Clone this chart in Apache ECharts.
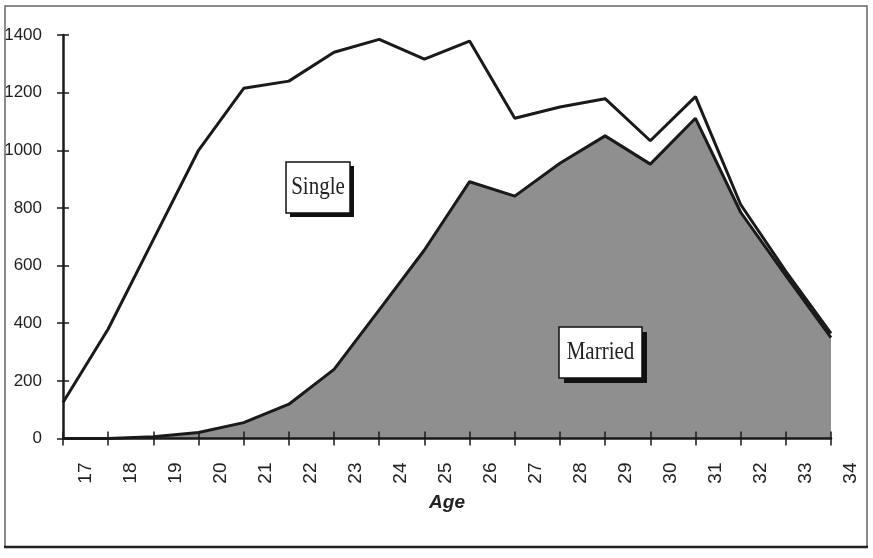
<!DOCTYPE html>
<html>
<head>
<meta charset="utf-8">
<script src="https://cdn.jsdelivr.net/npm/echarts@6/dist/echarts.min.js"></script>
<style>
html,body{margin:0;padding:0;background:#fff;}
#c{width:873px;height:558px;}
</style>
</head>
<body>
<div id="c"></div>
<script>
var ages = ['17','18','19','20','21','22','23','24','25','26','27','28','29','30','31','32','33','34'];
var yTicks = [0, 200, 400, 600, 800, 1000, 1200, 1400];
var single = [125, 380, 690, 1000, 1215, 1240, 1340, 1385, 1316, 1379, 1111, 1150, 1179, 1033, 1186, 812, 580, 365];
var married = [0, 0, 6, 21, 55, 119, 240, 446, 654, 891, 841, 955, 1050, 952, 1111, 785, 565, 350];
var seriesNames = ['Single', 'Married'];
var axisTitle = 'Age';

var chart = echarts.init(document.getElementById('c'), null, {renderer: 'canvas'});
var ink = '#1a1a1a';
var gL = 63, gR = 831, gT = 35, gB = 438.5;
var step = (gR - gL) / (ages.length - 1);

function labelBox(id, x, y, w, h, txt, off) {
  return [
    {type: 'rect', id: id + '_sh', z: 50, shape: {x: x + off, y: y + off, width: w, height: h}, style: {fill: '#111'}},
    {type: 'rect', id: id + '_bx', z: 51, shape: {x: x, y: y, width: w, height: h}, style: {fill: '#fff', stroke: '#111', lineWidth: 1.5}},
    {type: 'text', id: id + '_tx', z: 52, x: x + w / 2, y: y + h / 2, scaleY: 1.15,
      style: {text: txt, font: '21px "Liberation Serif", "Times New Roman", serif', fill: '#222', align: 'center', verticalAlign: 'middle'}}
  ];
}

var graphics = [
  {type: 'rect', id: 'frame', z: 40, shape: {x: 5, y: 6, width: 862, height: 541}, style: {fill: 'none', stroke: '#666', lineWidth: 1.5}},
  {type: 'line', id: 'frameBottom', z: 41, shape: {x1: 4, y1: 547, x2: 868, y2: 547}, style: {stroke: '#222', lineWidth: 2.5}}
].concat(labelBox('single', 286, 162, 64, 51, seriesNames[0], 4))
 .concat(labelBox('married', 559, 327, 83, 51, seriesNames[1], 5));

chart.setOption({
  animation: false,
  backgroundColor: '#fff',
  grid: [
    {left: gL, top: gT, width: gR - gL, height: gB - gT, containLabel: false},
    {left: gL, top: gT, width: step * ages.length, height: gB - gT, containLabel: false}
  ],
  xAxis: [
    {type: 'category', gridIndex: 0, data: ages, boundaryGap: false, z: 5,
      axisLine: {lineStyle: {color: ink, width: 2.5}},
      axisTick: {show: true, interval: 0, length: 7, lineStyle: {color: ink, width: 1.5}},
      axisLabel: {show: false}, splitLine: {show: false},
      name: axisTitle, nameLocation: 'middle', nameGap: 55,
      nameTextStyle: {fontFamily: '"Liberation Sans", Arial, sans-serif', fontSize: 19, fontWeight: 'bold', fontStyle: 'italic', color: '#222'}},
    {type: 'category', gridIndex: 0, data: ages, boundaryGap: false, position: 'bottom', z: 5,
      axisLine: {show: false},
      axisTick: {show: true, inside: true, interval: 0, length: 7, lineStyle: {color: ink, width: 1.5}},
      axisLabel: {show: false}, splitLine: {show: false}},
    {type: 'category', gridIndex: 1, data: ages, boundaryGap: true, position: 'bottom',
      axisLine: {show: false}, axisTick: {show: false}, splitLine: {show: false},
      axisLabel: {show: true, interval: 0, rotate: 90, margin: 24,
        fontFamily: '"Liberation Sans", Arial, sans-serif', fontSize: 19, color: '#222'}}
  ],
  yAxis: [
    {type: 'value', gridIndex: 0, min: 0, max: 1400, interval: 200, z: 5,
      axisLine: {show: true, lineStyle: {color: ink, width: 2.5}},
      axisTick: {show: true, length: 6, lineStyle: {color: ink, width: 1.5}},
      axisLabel: {margin: 21, fontFamily: '"Liberation Sans", Arial, sans-serif', fontSize: 17, color: '#222',
        formatter: function (v) { return yTicks.indexOf(v) >= 0 ? String(v) : ''; }},
      splitLine: {show: false}},
    {type: 'value', gridIndex: 0, min: 0, max: 1400, interval: 200, position: 'left', z: 5,
      axisLine: {show: false},
      axisTick: {show: true, inside: true, length: 6, lineStyle: {color: ink, width: 1.5}},
      axisLabel: {show: false}, splitLine: {show: false}},
    {type: 'value', gridIndex: 1, show: false, min: 0, max: 1400}
  ],
  series: [
    {name: seriesNames[1], type: 'line', xAxisIndex: 0, yAxisIndex: 0, data: married,
      showSymbol: false, symbol: 'none', z: 2,
      lineStyle: {color: ink, width: 3},
      areaStyle: {color: '#8f8f8f', opacity: 1}},
    {name: seriesNames[0], type: 'line', xAxisIndex: 0, yAxisIndex: 0, data: single,
      showSymbol: false, symbol: 'none', z: 3,
      lineStyle: {color: ink, width: 3}}
  ],
  graphic: graphics
});
</script>
</body>
</html>
